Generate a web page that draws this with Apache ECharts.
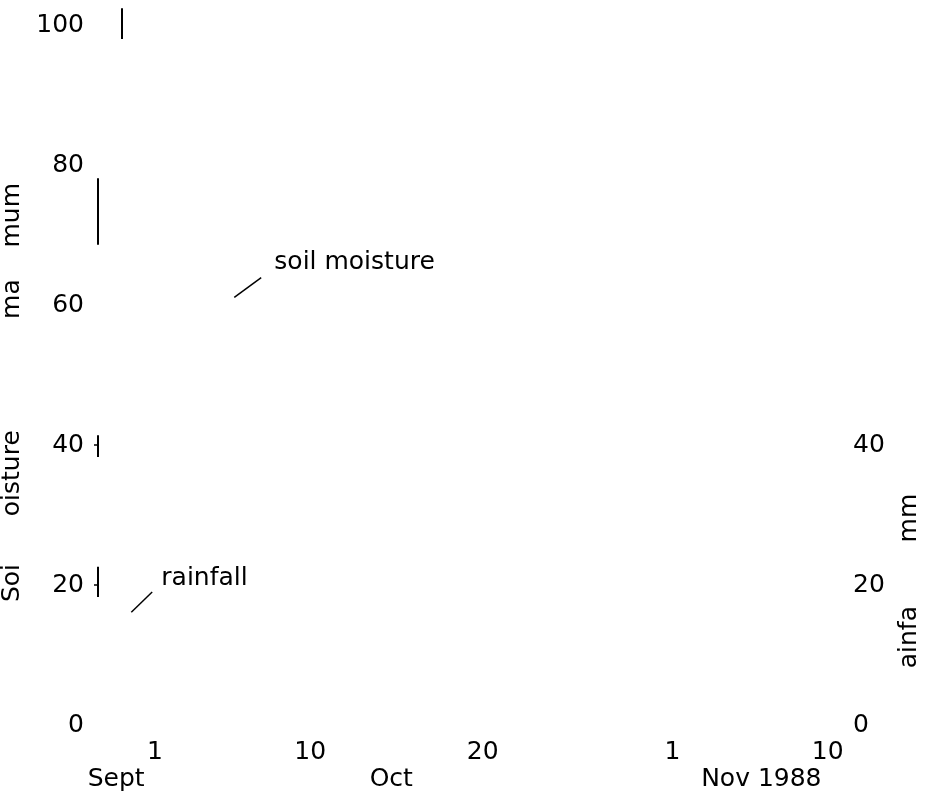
<!DOCTYPE html>
<html>
<head>
<meta charset="utf-8">
<script src="https://cdn.jsdelivr.net/npm/echarts@6/dist/echarts.min.js"></script>
<style>
  html, body { margin: 0; padding: 0; background: #ffffff; }
  #chart { width: 927px; height: 801px; }
</style>
</head>
<body>
<div id="chart"></div>
<script>
// x values: days counted from 1 September 1988 (0 = Sept 1)
const dayTickPos = [0, 9, 19, 30, 39];
const dayTickLabels = ['1', '10', '20', '1', '10'];
const monthLabelPos = [-2.25, 13.7, 35.15];
const monthLabels = ['Sept', 'Oct', 'Nov 1988'];
const moistureTicks = [0, 20, 40, 60, 80, 100];
const rainfallTicks = [0, 20, 40];
const leftTickMarks = [20, 40];
const leftAxisName = 'Soi      oisture              ma    mum';
const rightAxisName = 'ainfa        mm';

// surviving fragments of the scanned left axis line (x, soil moisture %)
const axisFragments = [
  [[-3.3, 68.6], [-3.3, 78.1]],
  [[-3.3, 38.3], [-3.3, 41.4]],
  [[-3.3, 18.3], [-3.3, 22.6]],
  [[-1.95, 98.0], [-1.95, 102.4]]
];

// series annotations
const annotationText = ['soil moisture', 'rainfall'];
const annotationLabelAt = [[6.92, 66.1], [0.37, 21.0]];
const annotationLeaderFrom = [[4.6, 61.1], [-1.37, 16.1]];
const annotationLeaderTo = [[6.16, 63.9], [-0.16, 19.0]];

const FONT = 'DejaVu Sans';
const INK = '#000000';
const X_MIN = -3.3, X_MAX = 40;

const chart = echarts.init(document.getElementById('chart'), null, { renderer: 'canvas' });

const baseX = {
  type: 'value', min: X_MIN, max: X_MAX, gridIndex: 0, position: 'bottom',
  axisLine: { show: false, onZero: false }, axisTick: { show: false }, splitLine: { show: false }
};

chart.setOption({
  animation: false,
  backgroundColor: '#ffffff',
  grid: { left: 98, right: 82, top: 25, bottom: 76, containLabel: false, outerBoundsMode: 'none' },
  xAxis: [
    Object.assign({}, baseX, {
      axisLabel: {
        customValues: dayTickPos,
        formatter: v => dayTickLabels[dayTickPos.indexOf(v)],
        margin: 15, fontSize: 25, fontFamily: FONT, color: INK
      }
    }),
    Object.assign({}, baseX, {
      offset: 27,
      axisLabel: {
        customValues: monthLabelPos,
        formatter: v => monthLabels[monthLabelPos.indexOf(v)],
        margin: 15, fontSize: 25, fontFamily: FONT, color: INK
      }
    })
  ],
  yAxis: [
    {
      type: 'value', min: 0, max: 100, interval: 20, position: 'left',
      name: leftAxisName, nameLocation: 'middle', nameRotate: 90, nameGap: 60,
      nameTextStyle: { fontSize: 25, fontFamily: FONT, color: INK, padding: [0, 35, 0, 0] },
      axisLine: { show: false, onZero: false },
      axisTick: { show: true, customValues: leftTickMarks, length: 4, lineStyle: { color: INK, width: 1.5 } },
      splitLine: { show: false },
      axisLabel: { customValues: moistureTicks, margin: 14, fontSize: 25, fontFamily: FONT, color: INK }
    },
    {
      type: 'value', min: 0, max: 100, interval: 20, position: 'right',
      name: rightAxisName, nameLocation: 'middle', nameRotate: 90, nameGap: 52,
      nameTextStyle: { fontSize: 25, fontFamily: FONT, color: INK, padding: [0, 412, 0, 0] },
      axisLine: { show: false, onZero: false }, axisTick: { show: false }, splitLine: { show: false },
      axisLabel: { customValues: rainfallTicks, margin: 8, fontSize: 25, fontFamily: FONT, color: INK }
    }
  ],
  series: [
    {
      name: 'axis fragments', type: 'lines', coordinateSystem: 'cartesian2d',
      xAxisIndex: 0, yAxisIndex: 0, clip: false, silent: true,
      lineStyle: { color: INK, width: 2, opacity: 1 },
      data: axisFragments.map(c => ({ coords: c }))
    },
    {
      name: 'leaders', type: 'lines', coordinateSystem: 'cartesian2d',
      xAxisIndex: 0, yAxisIndex: 0, clip: false, silent: true,
      lineStyle: { color: INK, width: 1.5, opacity: 1 },
      data: annotationLeaderFrom.map((p, i) => ({ coords: [p, annotationLeaderTo[i]] }))
    },
    {
      name: 'annotations', type: 'scatter', xAxisIndex: 0, yAxisIndex: 0,
      symbolSize: 0, itemStyle: { color: INK, opacity: 1 }, silent: true,
      label: {
        show: true, position: [0, 0], align: 'left', verticalAlign: 'middle',
        fontSize: 25, fontFamily: FONT, color: INK, textBorderWidth: 0, opacity: 1,
        formatter: p => annotationText[p.dataIndex]
      },
      data: annotationLabelAt.map(p => p.slice())
    }
  ]
});
</script>
</body>
</html>
